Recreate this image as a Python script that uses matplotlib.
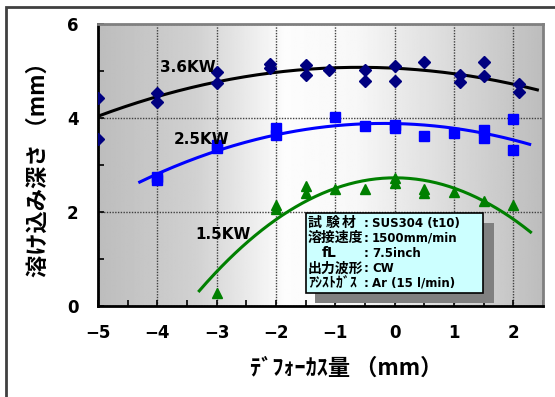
import numpy as np
import matplotlib
matplotlib.use("Agg")
import matplotlib.pyplot as plt
from matplotlib.patches import Rectangle

# 溶け込み深さ vs デフォーカス量 (SUS304, CW)
x36 = [-5, -5, -4, -4, -3, -3, -2.1, -2.1, -1.5, -1.5, -1.1, -0.5, -0.5, 0, 0,
       0.5, 1.1, 1.1, 1.5, 1.5, 2.1, 2.1]
y36 = [4.43, 3.55, 4.53, 4.33, 4.97, 4.75, 5.15, 5.06, 5.12, 4.91, 5.02, 5.02,
       4.79, 5.11, 4.78, 5.19, 4.92, 4.77, 5.19, 4.89, 4.72, 4.55]

x25 = [-4, -4, -3, -3, -2, -2, -1, -0.5, 0, 0, 0.5, 1, 1.5, 1.5, 2, 2]
y25 = [2.74, 2.68, 3.42, 3.36, 3.78, 3.63, 4.02, 3.82, 3.84, 3.79, 3.62, 3.67,
       3.74, 3.58, 3.98, 3.32]

x15 = [-3, -2, -2, -1.5, -1.5, -1, -0.5, 0, 0, 0.5, 0.5, 1, 1.5, 2]
y15 = [0.26, 2.15, 2.05, 2.54, 2.40, 2.48, 2.48, 2.72, 2.61, 2.48, 2.40, 2.43,
       2.22, 2.15]

# range of each trend line (mm)
rng36 = [-5.0, 2.43]
rng25 = [-4.32, 2.3]
rng15 = [-3.31, 2.31]

xticks = [-5, -4, -3, -2, -1, 0, 1, 2]
yticks = [0, 2, 4, 6]

cond_keys = ["試験材", "溶接速度", "fL", "出力波形", "ｱｼｽﾄｶﾞｽ"]
cond_vals = ["SUS304 (t10)", "1500mm/min", "7.5inch", "CW", "Ar (15 l/min)"]

W, H = 555, 397
def fx(px):
    return px / W
def fy(py):
    return 1 - py / H

fig = plt.figure(figsize=(W / 100, H / 100), dpi=100)
fig.patch.set_facecolor("white")
ax = fig.add_axes([fx(98), fy(305.7), fx(543) - fx(98), fy(24) - fy(305.7)])

# grey-white-grey background
prof_x = [0.0, 0.22, 0.42, 0.58, 0.75, 1.0]
prof_v = [0.74, 0.82, 0.99, 0.97, 0.88, 0.74]
gx = np.linspace(0, 1, 400)
grad = np.interp(gx, prof_x, prof_v)[None, :]
ax.imshow(grad, extent=[-5, 2.5, 0, 6], aspect="auto", cmap="gray",
          vmin=0, vmax=1, zorder=0, interpolation="bilinear")

ax.set_xlim(-5, 2.5)
ax.set_ylim(0, 6)

for xs, ys, r, c in [(x36, y36, rng36, "black"), (x25, y25, rng25, "#0000ff"),
                     (x15, y15, rng15, "#008000")]:
    p = np.polyfit(xs, ys, 2)
    xx = np.linspace(r[0], r[1], 200)
    ax.plot(xx, np.polyval(p, xx), color=c, lw=2.2, zorder=3, solid_capstyle="butt")

ax.plot(x36, y36, "D", color="#000080", ms=6.5, zorder=4, lw=0)
ax.plot(x25, y25, "s", color="#0000ff", ms=6.5, zorder=4, lw=0)
ax.plot(x15, y15, "^", color="#008000", ms=7.5, zorder=4, lw=0)

lab = dict(fontsize=11, fontweight="bold", family="DejaVu Sans", ha="center",
           va="center", zorder=5)
ax.text(-3.48, 5.07, "3.6KW", **lab)
ax.text(-3.26, 3.55, "2.5KW", **lab)
ax.text(-2.89, 1.51, "1.5KW", **lab)

ax.set_xticks(xticks)
ax.set_yticks(yticks)
ax.set_xticks(np.arange(-4.5, 2.6, 1.0), minor=True)
ax.set_yticks([1, 3, 5], minor=True)
ax.grid(True, which="major", linestyle=(0, (1, 1)), color="#404040", lw=1.0)
ax.tick_params(which="both", direction="in", length=4, width=1.2, color="black")
ax.tick_params(axis="y", which="major", pad=14, labelsize=12)
ax.tick_params(axis="x", which="major", pad=13, labelsize=12)
for t in ax.get_xticklabels() + ax.get_yticklabels():
    t.set_fontweight("bold")
    t.set_family("DejaVu Sans")

for s in ["left", "bottom"]:
    ax.spines[s].set_color("black")
    ax.spines[s].set_linewidth(2)
for s in ["top", "right"]:
    ax.spines[s].set_color("#808080")
    ax.spines[s].set_linewidth(2)

# axis titles
jp = ["Noto Sans CJK JP", "DejaVu Sans"]
fig.text(fx(38), fy(164), "溶け込み深さ （mm）", rotation=90, ha="center",
         va="center", fontsize=16, fontweight="bold", family=jp)
fig.text(fx(346), fy(368), "ﾃﾞﾌｫｰｶｽ量 （mm）", ha="center", va="center",
         fontsize=16, fontweight="bold", family=jp)

# condition box with shadow
fig.patches.append(Rectangle((fx(315), fy(303)), fx(494) - fx(315), fy(223) - fy(303),
                             transform=fig.transFigure, facecolor="#808080",
                             edgecolor="none", zorder=10))
fig.patches.append(Rectangle((fx(306), fy(293)), fx(483) - fx(306), fy(213) - fy(293),
                             transform=fig.transFigure, facecolor="#ccffff",
                             edgecolor="black", lw=1.2, zorder=11))
row_y = [223.3, 238.3, 253.3, 268.3, 283.3]
key_x = [308, 308, 322, 308, 308]
for i, (k, v) in enumerate(zip(cond_keys, cond_vals)):
    yy = fy(row_y[i])
    if i == 0:
        for ch, px in zip(k, [308, 326, 342]):
            fig.text(fx(px), yy, ch, ha="left", va="center", fontsize=10,
                     fontweight="bold", family=jp, zorder=12)
    else:
        fig.text(fx(key_x[i]), yy, k, ha="left", va="center", fontsize=10,
                 fontweight="bold", family=jp if i != 2 else "DejaVu Sans",
                 zorder=12)
    fig.text(fx(364), yy, ":", ha="left", va="center", fontsize=8.5,
             fontweight="bold", family="DejaVu Sans", zorder=12)
    fig.text(fx(372), yy, v, ha="left", va="center", fontsize=8.5,
             fontweight="bold", family="DejaVu Sans", zorder=12)

# outer frame
fig.patches.append(Rectangle((fx(6), fy(420)), fx(580) - fx(6), fy(7) - fy(420),
                             transform=fig.transFigure, facecolor="none",
                             edgecolor="#404040", lw=2, clip_on=False, zorder=20))

fig.savefig("out.png", dpi=100)
